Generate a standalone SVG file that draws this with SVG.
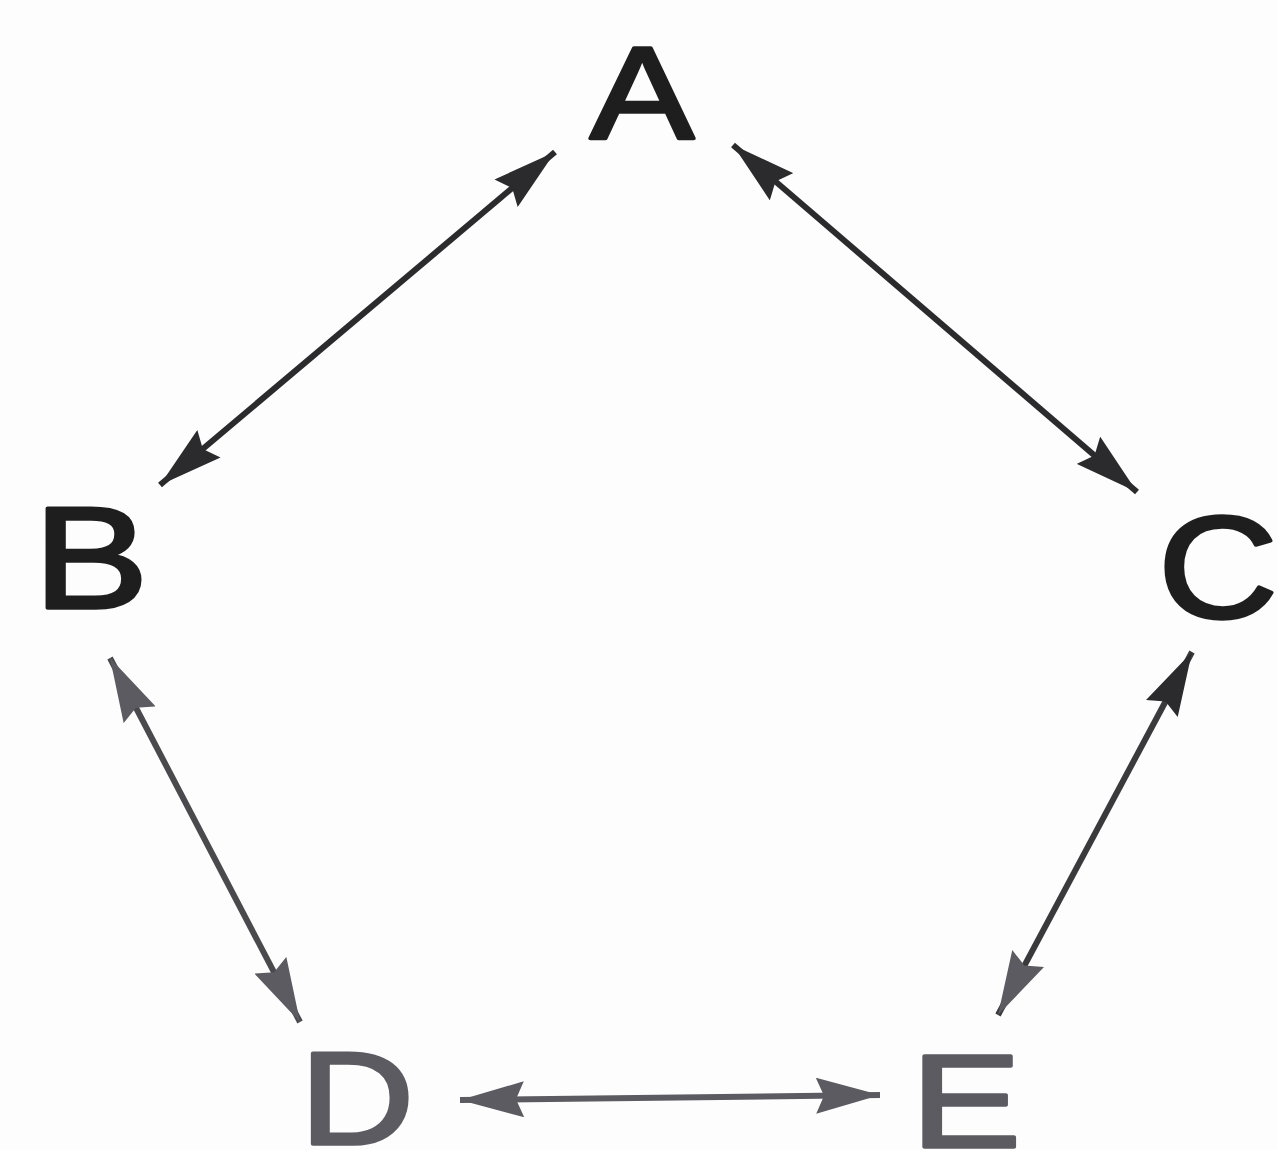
<svg xmlns="http://www.w3.org/2000/svg" width="1277" height="1150" viewBox="0 0 1277 1150">
<style>
.lbl{font-family:"Liberation Sans",Arial,sans-serif;stroke-width:3.5;stroke-linejoin:round;}
.dark{fill:#1e1e1e;stroke:#1e1e1e;}
.grey{fill:#5c5b61;stroke:#5c5b61;}
.c{stroke-width:6;fill:none;}
</style>
<defs>
<marker id="hdk" viewBox="0 0 64 36" refX="64" refY="18" markerWidth="64" markerHeight="36" markerUnits="userSpaceOnUse" orient="auto-start-reverse">
<path d="M0,0 L64,18 L0,36 L8,18 Z" fill="#2b2b2d"/>
</marker>
<marker id="hdg" viewBox="0 0 64 36" refX="64" refY="18" markerWidth="64" markerHeight="36" markerUnits="userSpaceOnUse" orient="auto-start-reverse">
<path d="M0,0 L64,18 L0,36 L8,18 Z" fill="#5c5b61"/>
</marker>
</defs>
<rect width="1277" height="1150" fill="#fdfdfd"/>
<g id="connectors">
<line class="c" x1="160" y1="485" x2="555" y2="152" stroke="#2b2b2d" marker-start="url(#hdk)" marker-end="url(#hdk)"/>
<line class="c" x1="733" y1="145" x2="1137" y2="492" stroke="#2b2b2d" marker-start="url(#hdk)" marker-end="url(#hdk)"/>
<line class="c" x1="110" y1="658" x2="300" y2="1022" stroke="#4a4a4e" marker-start="url(#hdg)" marker-end="url(#hdg)"/>
<line class="c" x1="1192" y1="652" x2="998" y2="1015" stroke="#3a3a3d" marker-start="url(#hdk)" marker-end="url(#hdg)"/>
<line class="c" x1="460" y1="1100" x2="880" y2="1095" stroke="#5c5b61" marker-start="url(#hdg)" marker-end="url(#hdg)"/>
</g>
<g id="node-A"><text class="lbl dark" x="642" y="139" font-size="132" text-anchor="middle" textLength="104" lengthAdjust="spacingAndGlyphs">A</text></g>
<g id="node-B"><text class="lbl dark" x="91" y="608" font-size="145" text-anchor="middle" textLength="115" lengthAdjust="spacingAndGlyphs">B</text></g>
<g id="node-C"><text class="lbl dark" x="1218" y="618" font-size="145" text-anchor="middle" textLength="120" lengthAdjust="spacingAndGlyphs">C</text></g>
<g id="node-D"><text class="lbl grey" x="357" y="1144" font-size="132" text-anchor="middle" textLength="114" lengthAdjust="spacingAndGlyphs">D</text></g>
<g id="node-E"><text class="lbl grey" x="966" y="1147" font-size="132" text-anchor="middle" textLength="110" lengthAdjust="spacingAndGlyphs">E</text></g>
</svg>
